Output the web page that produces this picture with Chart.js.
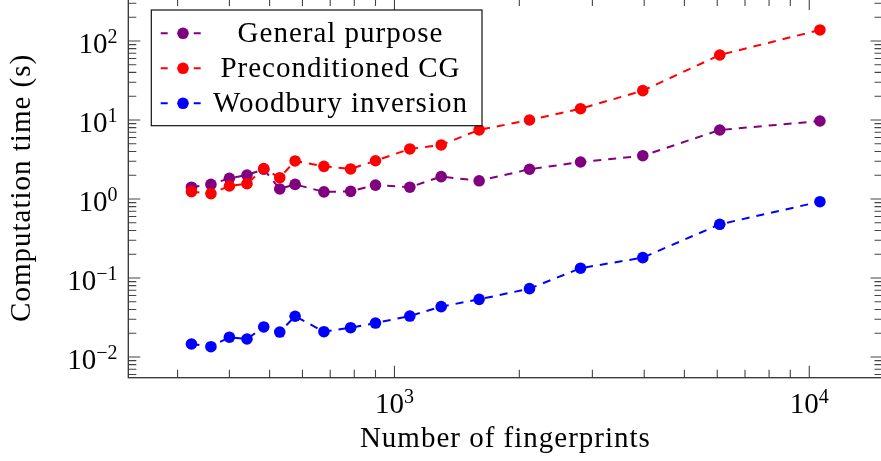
<!DOCTYPE html>
<html><head><meta charset="utf-8">
<script src="https://cdn.jsdelivr.net/npm/chart.js@4.4.1/dist/chart.umd.min.js"></script>
<style>
html,body{margin:0;padding:0;background:#fff;overflow:hidden;width:881px;height:461px;position:relative}
#c{position:absolute;left:0;top:-10px}
</style></head>
<body><canvas id="c" width="895" height="471"></canvas>
<script>
// ---- data ----
const fingerprints = [324, 361, 400, 441, 484, 529, 576, 676, 784, 900, 1089, 1296, 1600, 2116, 2809, 3969, 6084, 10609];
const generalPurpose = [1.41, 1.53, 1.83, 2.01, 2.38, 1.34, 1.53, 1.23, 1.25, 1.50, 1.41, 1.92, 1.70, 2.38, 2.94, 3.53, 7.47, 9.71];
const preconditionedCG = [1.24, 1.17, 1.46, 1.56, 2.42, 1.86, 3.03, 2.59, 2.40, 3.05, 4.30, 4.83, 7.5, 10.0, 13.9, 23.5, 66.5, 138];
const woodburyInversion = [0.0146, 0.0135, 0.0178, 0.0169, 0.0240, 0.0207, 0.0328, 0.0209, 0.0235, 0.0269, 0.0330, 0.0434, 0.0537, 0.0733, 0.133, 0.181, 0.478, 0.924];
const seriesNames = ['General purpose', 'Preconditioned CG', 'Woodbury inversion'];
const seriesColors = ['#800080', '#ff0000', '#0000ff'];
const xTickExponents = [3, 4];
const yTickExponents = [-2, -1, 0, 1, 2];
const xTitle = 'Number of fingerprints';
const yTitle = 'Computation time (s)';

const FONT = '"Liberation Serif", "Times New Roman", serif';
const OY = 10; // canvas is shifted up by this many px

function pts(ys) { return fingerprints.map((x, i) => ({x: x, y: ys[i]})); }
function ds(label, ys, color, order) {
  return {
    label: label, data: pts(ys), order: order,
    borderColor: color, backgroundColor: color,
    borderWidth: 2, borderDash: [8, 7], fill: false, tension: 0,
    pointRadius: 5.8, pointHoverRadius: 5.8, pointBorderWidth: 0,
    pointBackgroundColor: color, pointBorderColor: color, clip: false
  };
}

function drawPow(ctx, exp, x, baseY, align) {
  const base = '10';
  const sup = exp < 0 ? '\u2212' + (-exp) : String(exp);
  ctx.font = '29px ' + FONT; const wb = ctx.measureText(base).width;
  ctx.font = '20px ' + FONT; const ws = ctx.measureText(sup).width;
  const total = wb + ws;
  const left = align === 'right' ? x - total : x - total / 2;
  ctx.textAlign = 'left'; ctx.textBaseline = 'alphabetic';
  ctx.fillStyle = '#000';
  ctx.font = '29px ' + FONT; ctx.fillText(base, left, baseY);
  ctx.font = '20px ' + FONT; ctx.fillText(sup, left + wb, baseY - 10);
}

const axesPlugin = {
  id: 'pgfAxes',
  beforeDatasetsDraw(chart) {
    const ctx = chart.ctx, a = chart.chartArea;
    const xs = chart.scales.x, ys = chart.scales.y;
    ctx.save();
    ctx.strokeStyle = '#444'; ctx.lineWidth = 1.1;
    const MAJ = 12, MIN = 8;
    // x ticks
    for (let e = 2; e <= 4; e++) {
      for (let m = 1; m <= 9; m++) {
        const v = m * Math.pow(10, e);
        if (v < xs.min || v > xs.max) continue;
        const px = xs.getPixelForValue(v);
        const L = m === 1 ? MAJ : MIN;
        ctx.beginPath();
        ctx.moveTo(px, a.bottom); ctx.lineTo(px, a.bottom - L);
        ctx.moveTo(px, a.top); ctx.lineTo(px, a.top + L);
        ctx.stroke();
      }
    }
    // y ticks
    for (let e = -3; e <= 2; e++) {
      for (let m = 1; m <= 9; m++) {
        const v = m * Math.pow(10, e);
        if (v < ys.min || v > ys.max) continue;
        const py = ys.getPixelForValue(v);
        const L = m === 1 ? MAJ : MIN;
        ctx.beginPath();
        ctx.moveTo(a.left, py); ctx.lineTo(a.left + L, py);
        ctx.moveTo(a.right, py); ctx.lineTo(a.right - L, py);
        ctx.stroke();
      }
    }
    // frame
    ctx.strokeStyle = '#333'; ctx.lineWidth = 1.3;
    ctx.strokeRect(a.left, a.top, a.right - a.left, a.bottom - a.top);
    // tick labels
    xTickExponents.forEach(e => {
      drawPow(ctx, e, xs.getPixelForValue(Math.pow(10, e)), 413 + OY, 'center');
    });
    yTickExponents.forEach(e => {
      drawPow(ctx, e, 117.5, ys.getPixelForValue(Math.pow(10, e)) + 11.7, 'right');
    });
    // axis titles
    ctx.fillStyle = '#000';
    ctx.font = '29px ' + FONT;
    try { ctx.letterSpacing = '1px'; } catch (err) {}
    ctx.textAlign = 'center'; ctx.textBaseline = 'alphabetic';
    ctx.fillText(xTitle, (a.left + a.right) / 2, 447 + OY);
    ctx.save();
    ctx.translate(30, (a.top + a.bottom) / 2);
    ctx.rotate(-Math.PI / 2);
    ctx.fillText(yTitle, 0, 0);
    ctx.restore();
    try { ctx.letterSpacing = '0px'; } catch (err) {}
    ctx.restore();
  },
  afterDraw(chart) {
    const ctx = chart.ctx;
    ctx.save();
    const bx = 151.3, by = 10 + OY, bw = 482 - 151.3, bh = 125.7 - 10;
    ctx.fillStyle = '#fff';
    ctx.fillRect(bx, by, bw, bh);
    ctx.strokeStyle = '#111'; ctx.lineWidth = 1.2;
    ctx.strokeRect(bx, by, bw, bh);
    seriesNames.forEach((name, i) => {
      const cy = 33.3 + 35 * i + OY;
      const col = seriesColors[i];
      ctx.strokeStyle = col; ctx.lineWidth = 2;
      ctx.beginPath();
      ctx.moveTo(160.7, cy); ctx.lineTo(167.7, cy);
      ctx.moveTo(193.7, cy); ctx.lineTo(200.7, cy);
      ctx.stroke();
      ctx.fillStyle = col;
      ctx.beginPath(); ctx.arc(183, cy, 5.8, 0, Math.PI * 2); ctx.fill();
      ctx.fillStyle = '#000';
      ctx.font = '29px ' + FONT;
      try { ctx.letterSpacing = '1px'; } catch (err) {}
      ctx.textAlign = 'center'; ctx.textBaseline = 'alphabetic';
      ctx.fillText(name, 340.5, cy + 8.4);
      try { ctx.letterSpacing = '0px'; } catch (err) {}
    });
    ctx.restore();
  }
};

new Chart(document.getElementById('c'), {
  type: 'line',
  data: {
    datasets: [
      ds(seriesNames[0], generalPurpose, seriesColors[0], 3),
      ds(seriesNames[1], preconditionedCG, seriesColors[1], 2),
      ds(seriesNames[2], woodburyInversion, seriesColors[2], 1)
    ]
  },
  options: {
    responsive: false, animation: false, devicePixelRatio: 1,
    layout: {padding: {left: 128.3, right: 12.5, top: 8, bottom: 83.3}},
    plugins: {legend: {display: false}, tooltip: {enabled: false}},
    events: [],
    scales: {
      x: {type: 'logarithmic', min: 228.2, max: 15016, display: false},
      y: {type: 'logarithmic', min: 0.00547, max: 350, display: false}
    }
  },
  plugins: [axesPlugin]
});
</script>
</body></html>
